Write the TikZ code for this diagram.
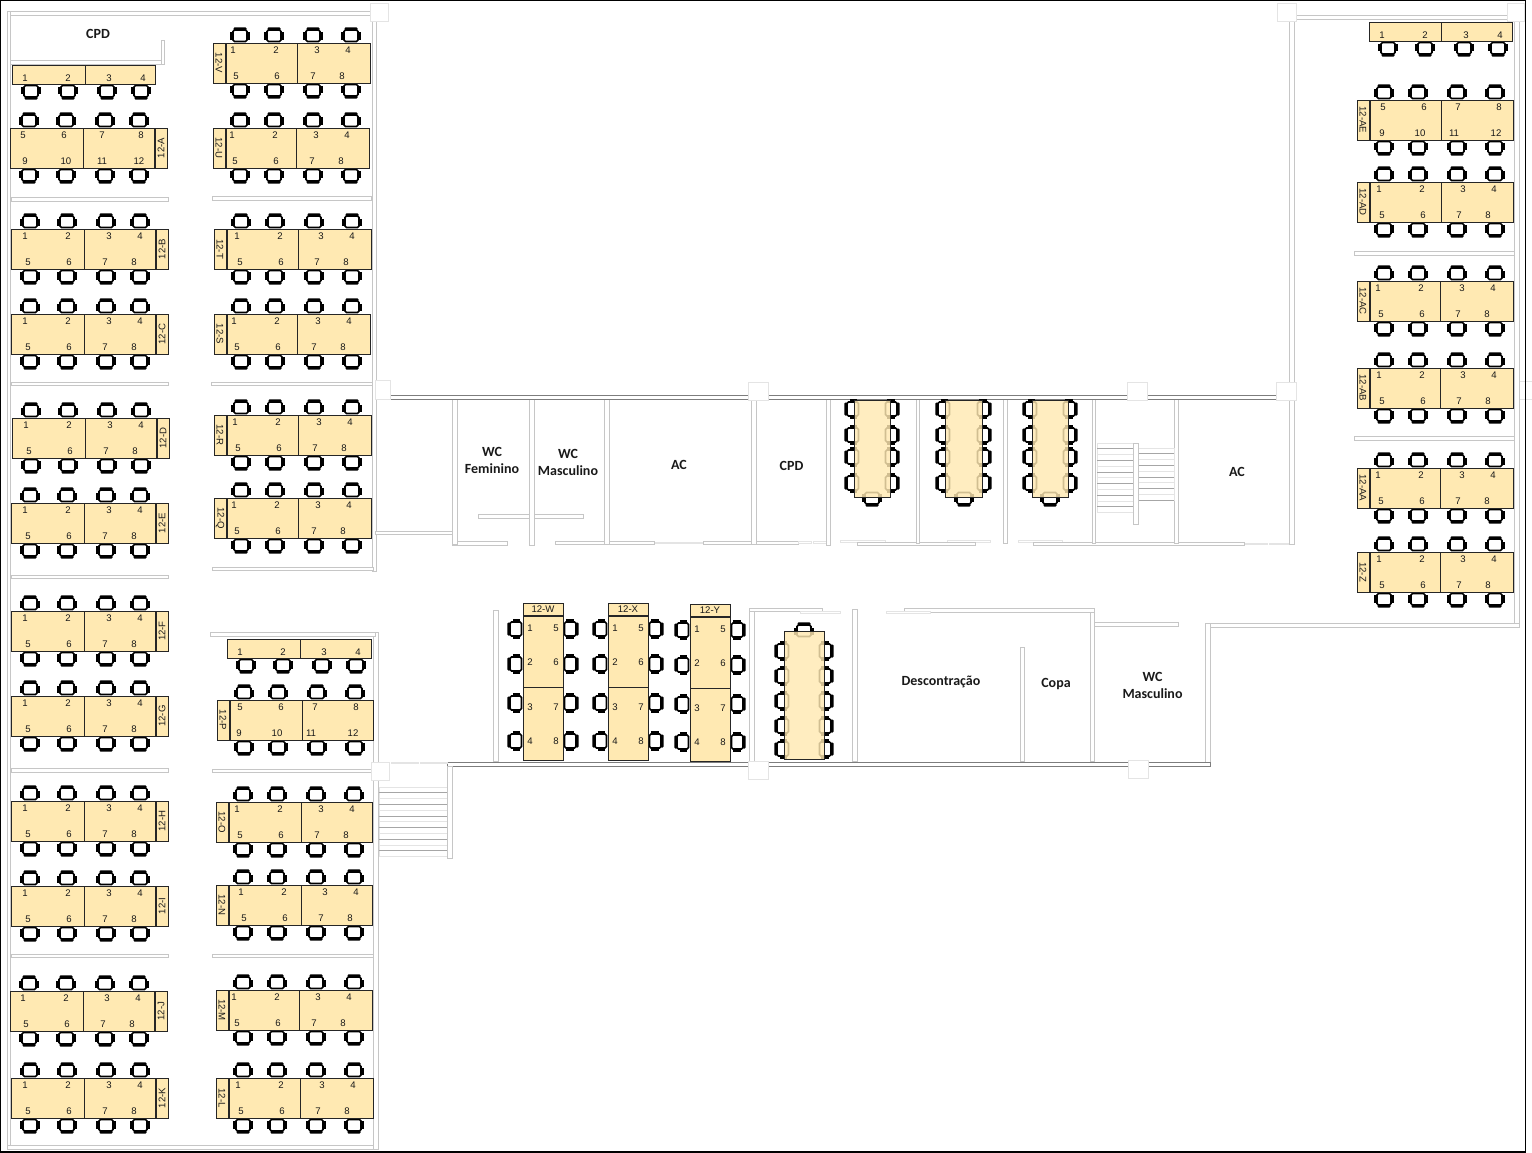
\documentclass[tikz,border=0pt]{standalone}
\usepackage{fontspec}
\setmainfont{Liberation Sans}
\newfontfamily\roomfont{Carlito}
\definecolor{deskfill}{RGB}{255,233,178}
\definecolor{wallgray}{RGB}{198,198,198}
\definecolor{walldark}{RGB}{125,125,125}
\definecolor{wallfaint}{RGB}{228,228,228}

\tikzset{
  desk/.style={draw=black!85,fill=deskfill,line width=.8pt},
  num/.style={inner sep=0pt,text=black!90,font=\fontsize{9.6}{10}\selectfont},
  room/.style={inner sep=0pt,align=center,text=black!90,font=\roomfont\bfseries\fontsize{14}{17}\selectfont},
  wall/.style={draw=wallgray,fill=white,line width=.8pt},
  mainwall/.style={draw=walldark,fill=white,line width=.8pt},
  faintwall/.style={draw=wallfaint,fill=white,line width=.7pt},
  pier/.style={draw=wallfaint,fill=white,line width=.8pt},
  chair/.pic={
    \draw[line width=1.6pt,fill=white,rounded corners=1.5pt] (-7,-5) rectangle (7,6.5);
    \fill[black,rounded corners=1pt] (-6.5,-7.7) rectangle (6.5,-4.6);
    \fill[black] (-9.7,-2.5) rectangle (-7,4.7);
    \fill[black] (7,-2.5) rectangle (9.7,4.7);
  }
}

\def\numsR{14/17/1/5,57/58/2/6,98/94/3/7,129/123/4/8}
\def\numsRb{13/15/5/9,54/56/6/10,92/92/7/11,131/129/8/12}
\def\numsL{7/10/1/5,50/51/2/6,91/87/3/7,122/116/4/8}
\def\numsLb{10/9/5/9,51/47/6/10,85/81/7/11,126/123/8/12}

\newcommand{\deskbody}[4]{
  \draw[desk] (#1,#4) rectangle (#2,#4+40);
  \draw[desk] (#2,#4) rectangle (#3,#4+40);
}
\newcommand{\deskR}[7][\numsR]{
  \foreach \c in {19,56,95,129} {
    \pic[rotate=0] at (#2+\c,#5-8) {chair};
    \pic[rotate=180] at (#2+\c,#5+48) {chair};
  }
  \deskbody{#2}{#3}{#4}{#5}
  \foreach \a/\b/\n/\m in #1 {
    \node[num] (#7-\n) at (#2+\a+#6,#5+7.5) {\n};
    \node[num] (#7-\m) at (#2+\b+#6,#5+33) {\m};
  }
  \draw[desk] (#4+1,#5) rectangle (#4+13,#5+40);
  \node[num,rotate=90] (tag-#7) at (#4+7,#5+20) {#7};
}
\newcommand{\deskL}[7][\numsL]{
  \foreach \c in {14,48,87,125} {
    \pic[rotate=0] at (#2+\c,#5-8) {chair};
    \pic[rotate=180] at (#2+\c,#5+48) {chair};
  }
  \deskbody{#2}{#3}{#4}{#5}
  \foreach \a/\b/\n/\m in #1 {
    \node[num] (#7-\n) at (#2+\a+#6,#5+7.5) {\n};
    \node[num] (#7-\m) at (#2+\b+#6,#5+33) {\m};
  }
  \draw[desk] (#2-13,#5) rectangle (#2-1,#5+40);
  \node[num,rotate=-90] (tag-#7) at (#2-7,#5+20) {#7};
}
\newcommand{\deskT}[5]{
  \foreach \c in {19,56,95,129} {
    \pic[rotate=180] at (#1+\c,#4+27) {chair};
  }
  \draw[desk] (#1,#4) rectangle (#2,#4+19);
  \draw[desk] (#2,#4) rectangle (#3,#4+19);
  \foreach \a/\n in {13/1,56/2,97/3,131/4} {
    \node[num] (#5-\n) at (#1+\a,#4+13) {\n};
  }
}
\newcommand{\deskV}[3]{
  \foreach \c in {26,61,100,138} {
    \pic[rotate=90] at (#1-8,#2+\c) {chair};
    \pic[rotate=-90] at (#1+48,#2+\c) {chair};
  }
  \draw[desk] (#1,#2) rectangle (#1+40,#2+12);
  \node[num] (tag-#3) at (#1+20,#2+6.5) {#3};
  \draw[desk] (#1,#2+13) rectangle (#1+40,#2+84);
  \draw[desk] (#1,#2+84) rectangle (#1+40,#2+157);
  \foreach \a/\n/\m in {25/1/5,59/2/6,104/3/7,138/4/8} {
    \node[num] (#3-\n) at (#1+7,#2+\a) {\n};
    \node[num] (#3-\m) at (#1+33,#2+\a) {\m};
  }
}
\newcommand{\meeting}[3]{
  \foreach \c in {#3} {
    \pic[rotate=90] at (#1-2,\c) {chair};
    \pic[rotate=-90] at (#2+2,\c) {chair};
  }
}
\newcommand{\stairs}[4]{
  \draw[faintwall] (#1,#3) rectangle (#2,#3+#4*5.8);
  \foreach \i in {1,...,#4} {
    \draw[draw=wallfaint,line width=.8pt] (#1,#3+\i*5.8-5.8) -- (#2,#3+\i*5.8-5.8);
  }
  \foreach \i in {1,3,...,#4} {
    \draw[draw=gray!70,line width=.7pt] (#1,#3+\i*5.8) -- (#2,#3+\i*5.8);
  }
}

\begin{document}
\begin{tikzpicture}[x=1pt,y=-1pt]
\useasboundingbox (0,0) rectangle (1532,1153);
\draw[pier] (1514,381) rectangle (1532,399);
\draw[black,line width=1.6pt] (.5,.5) rectangle (1525.5,1152.2);

\draw[wall] (7,11) rectangle (376,15);
\draw[wall] (7,11) rectangle (10.5,1149);
\draw[wall] (7,1145) rectangle (378,1149);
\draw[wall] (372,15) rectangle (376,571);
\draw[wall] (373,632) rectangle (378,1149);
\draw[wall] (210,632) rectangle (375,636);
\draw[wall] (10,60) rectangle (164,64);
\draw[wall] (161,40) rectangle (164,64);
\draw[wall] (11,197) rectangle (168,201);
\draw[wall] (212,196) rectangle (371,200);
\draw[wall] (11,382) rectangle (168,385);
\draw[wall] (211,382) rectangle (372,385);
\draw[wall] (11,575) rectangle (168,578);
\draw[wall] (212,567) rectangle (373,570);
\draw[wall] (11,768) rectangle (168,772);
\draw[wall] (212,769) rectangle (373,772);
\draw[wall] (11,954) rectangle (168,957);
\draw[wall] (212,954) rectangle (373,957);

\draw[wall] (1289,20) rectangle (1294.5,384);
\draw[wall] (1296,15) rectangle (1507,19.5);
\draw[wall] (1514,20) rectangle (1519,627);
\draw[wall] (1206,623) rectangle (1519,627);
\draw[wall] (1354,251) rectangle (1514,255);
\draw[wall] (1354,436) rectangle (1514,440);

\draw[wall] (375,531) rectangle (452,534);
\draw[wall] (452,541) rectangle (507,545);
\draw[wall] (555,541) rectangle (654,544);
\draw[faintwall] (655,542) rectangle (680,543.5);
\draw[faintwall] (681,542) rectangle (703,543.5);
\draw[wall] (703,541) rectangle (798,544);
\draw[faintwall] (798,541.5) rectangle (811,543);
\draw[faintwall] (813,541.5) rectangle (826,543);
\draw[faintwall] (840,540.5) rectangle (885,542);
\draw[faintwall] (947,540.5) rectangle (990,542);
\draw[faintwall] (1018,540.5) rectangle (1062,542);
\draw[wall] (857,542) rectangle (975,545.5);
\draw[wall] (1033,542) rectangle (1244,545.5);
\draw[faintwall] (1245,543) rectangle (1267,544.5);
\draw[faintwall] (1269,543) rectangle (1289,544.5);
\draw[wall] (478,514) rectangle (583,518);
\foreach \a/\b/\e in {452/457/544,529/534/545,604/609/544,751/756/544,826/830/545,916/919/543,1003/1007.5/543,1092/1095/543,1174/1178/543,1289/1294.5/544} {
  \draw[wall] (\a,399) rectangle (\b,\e);
}
\draw[mainwall] (390,395) rectangle (1278,399);

\stairs{1097}{1133}{443}{12}
\stairs{1138}{1174}{448}{9}
\draw[wall] (1133,443) rectangle (1138,524);

\draw[wall] (493,610) rectangle (498,761);
\draw[wall] (749,608) rectangle (754,761);
\draw[wall] (749,608) rectangle (822,611);
\draw[faintwall] (800,611) rectangle (840,613);
\draw[wall] (852,609) rectangle (857.5,761);
\draw[wall] (1020,647) rectangle (1024.5,761);
\draw[wall] (1090,609) rectangle (1094,761);
\draw[wall] (904,608) rectangle (1094,612);
\draw[faintwall] (886,611) rectangle (930,613);
\draw[wall] (1094,622) rectangle (1178,626);
\draw[wall] (1205,623) rectangle (1210,766);
\draw[mainwall] (447,762) rectangle (1210,766);
\draw[faintwall] (391,762) rectangle (418,763.5);
\draw[faintwall] (420,762) rectangle (447,763.5);

\stairs{379}{447}{787}{12}
\draw[wall] (447,766) rectangle (452,858);

\draw[pier] (370,3) rectangle (388,21);
\draw[pier] (375,380) rectangle (390,399);
\draw[pier] (748,382) rectangle (768,400);
\draw[pier] (1127,382) rectangle (1147,400);
\draw[pier] (1276,382) rectangle (1296,400);
\draw[pier] (1277,3) rectangle (1296,21);
\draw[pier] (1507,3) rectangle (1524.5,21);
\draw[pier] (371,762) rectangle (389,780);
\draw[pier] (748,761) rectangle (768,779);
\draw[pier] (1128,760) rectangle (1148,778);

\deskT{12}{85}{155}{65}{top-A}
\deskR[\numsRb]{10}{83}{154}{128}{0}{12-A}
\deskR{11}{84}{155}{229}{0}{12-B}
\deskR{11}{84}{155}{314}{0}{12-C}
\deskR{12}{85}{156}{418}{0}{12-D}
\deskR{11}{84}{155}{503}{0}{12-E}
\deskR{11}{84}{155}{611}{0}{12-F}
\deskR{11}{84}{155}{696}{0}{12-G}
\deskR{11}{84}{155}{801}{0}{12-H}
\deskR{11}{84}{155}{886}{0}{12-I}
\deskR{10}{83}{154}{991}{-1}{12-J}
\deskR{11}{84}{155}{1078}{0}{12-K}

\deskL{226}{297}{370}{43}{0}{12-V}
\deskL{226}{296}{369.5}{128}{-1}{12-U}
\deskL{227}{298}{371}{229}{3}{12-T}
\deskL{227}{297}{370}{314}{0}{12-S}
\deskL{227}{298}{371}{415}{1}{12-R}
\deskL{227}{298}{371}{498}{0}{12-Q}
\deskT{227}{300}{371}{639}{top-P}
\deskL[\numsLb]{230}{302}{373}{700}{0}{12-P}
\deskL{229}{301}{372}{802}{1}{12-O}
\deskL{229}{301}{372}{885}{5}{12-N}
\deskL{229}{299}{372}{990}{-2}{12-M}
\deskL{229}{300}{373}{1078}{2}{12-L}

\deskT{1369}{1441}{1512}{22}{top-AE}
\deskL[\numsLb]{1370}{1441}{1513}{100}{3}{12-AE}
\deskL{1370}{1441}{1513}{182}{2}{12-AD}
\deskL{1370}{1440}{1513}{281}{1}{12-AC}
\deskL{1370}{1440}{1513}{368}{2}{12-AB}
\deskL{1370}{1440}{1513}{468}{1}{12-AA}
\deskL{1370}{1440}{1513}{552}{2}{12-Z}

\deskV{523}{603}{12-W}
\deskV{608}{603}{12-X}
\deskV{690}{604}{12-Y}

\meeting{854}{890}{409,435,457,483}
\pic[rotate=180] at (872,499) {chair};
\draw[desk,fill opacity=.82] (854,400) rectangle (890,497);
\meeting{945}{982}{409,435,457,483}
\pic[rotate=180] at (964,499) {chair};
\draw[desk,fill opacity=.82] (945,400) rectangle (982,497);
\meeting{1032}{1068}{409,435,457,483}
\pic[rotate=180] at (1050,499) {chair};
\draw[desk,fill opacity=.82] (1032,400) rectangle (1068,497);
\meeting{784}{824}{651,676,701,726,749}
\pic[rotate=0] at (804,630) {chair};
\draw[desk,fill opacity=.82] (784,631) rectangle (824,759);

\node[room] (cpd-a) at (98,34) {CPD};
\node[room] (wc-f) at (492,460.5) {WC\\Feminino};
\node[room] (wc-m) at (568,462) {WC\\Masculino};
\node[room] (ac-a) at (679,465) {AC};
\node[room] (cpd-b) at (791.5,465.5) {CPD};
\node[room] (ac-b) at (1237,472) {AC};
\node[room] (relax) at (941,682) {Descontração};
\node[room] (copa) at (1056,684) {Copa};
\node[room] (wc-n) at (1152.5,685.5) {WC\\Masculino};
\end{tikzpicture}
\end{document}
